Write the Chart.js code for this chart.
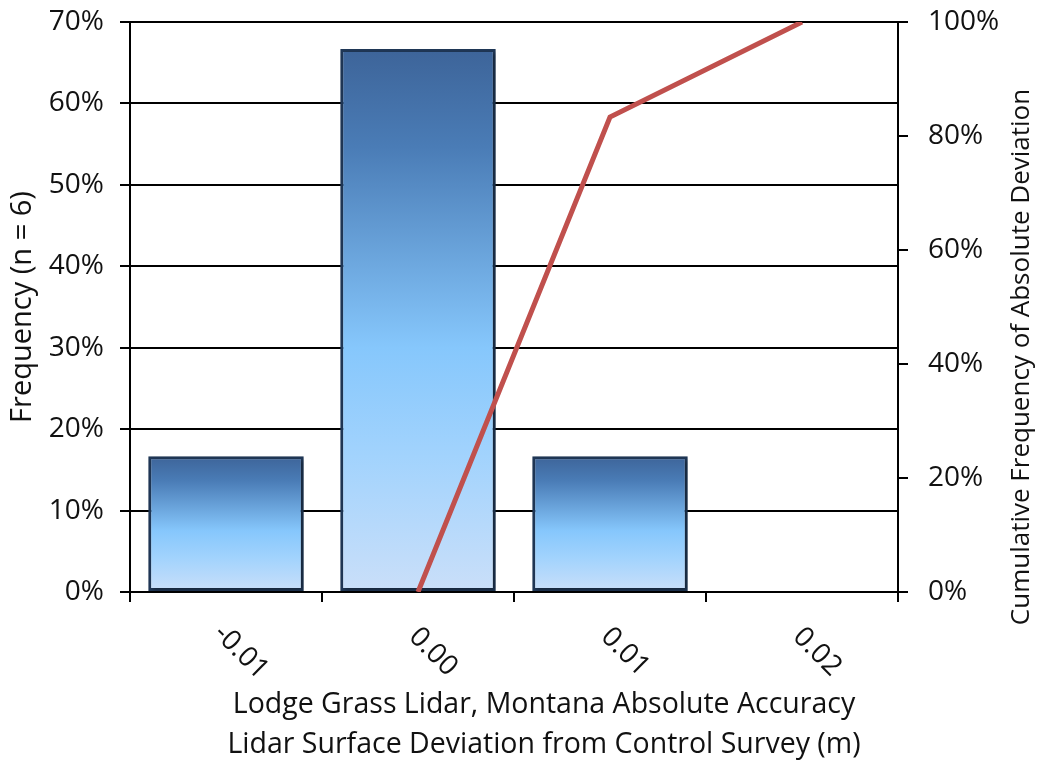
<!DOCTYPE html>
<html><head><meta charset="utf-8">
<script src="https://cdn.jsdelivr.net/npm/chart.js@4.4.0/dist/chart.umd.min.js"></script>
<style>html,body{margin:0;padding:0;background:#fff}#wrap{width:1045px;height:763px}</style>
</head><body><div id="wrap"><canvas id="c" width="1045" height="763"></canvas></div>
<script>
const categories = ['-0.01', '0.00', '0.01', '0.02'];
const frequency = [16.67, 66.67, 16.67, 0];
const cumulative = [null, 0, 83.33, 100];
const leftTicks = [0, 10, 20, 30, 40, 50, 60, 70];
const rightTicks = [0, 20, 40, 60, 80, 100];
const xTitle = ['Lodge Grass Lidar, Montana Absolute Accuracy', 'Lidar Surface Deviation from Control Survey (m)'];
const yTitle = 'Frequency (n = 6)';
const y2Title = 'Cumulative Frequency of Absolute Deviation';

const FONT = "'Open Sans', sans-serif";
const TXT = '#111';

function barGradient(context) {
  const chart = context.chart;
  const area = chart.chartArea;
  if (!area || context.type !== 'data') return '#6fa8dc';
  const ys = chart.scales.y;
  const top = ys.getPixelForValue(context.raw);
  const bottom = ys.getPixelForValue(0);
  if (!(bottom - top > 1)) return '#c8ddf8';
  const g = chart.ctx.createLinearGradient(0, top, 0, bottom);
  g.addColorStop(0, '#3d6499');
  g.addColorStop(0.18, '#4a7cb6');
  g.addColorStop(0.55, '#86c7fc');
  g.addColorStop(0.75, '#a2d3fd');
  g.addColorStop(1, '#cadff9');
  return g;
}

const shadowPlugin = {
  id: 'barShadow',
  beforeDatasetDraw(chart, args) {
    if (args.index !== 0) return;
    const c = chart.ctx;
    c.save();
    c.shadowColor = 'rgba(0,0,0,0.35)';
    c.shadowBlur = 4;
    c.shadowOffsetX = 2;
    c.shadowOffsetY = 2;
  },
  afterDatasetDraw(chart, args) {
    if (args.index !== 0) return;
    chart.ctx.restore();
  }
};

const textPlugin = {
  id: 'customText',
  afterDraw(chart) {
    const c = chart.ctx;
    const xs = chart.scales.x;
    c.save();
    c.fillStyle = TXT;
    c.font = '28px ' + FONT;
    c.textAlign = 'center';
    c.textBaseline = 'middle';
    categories.forEach((lab, i) => {
      const x = xs.getPixelForTick(i);
      c.save();
      c.translate(x + 15, 652);
      c.rotate(Math.PI / 4);
      c.fillText(lab, 0, 0);
      c.restore();
    });
    c.font = '28.5px ' + FONT;
    c.fillText(xTitle[0], 544, 705);
    c.fillText(xTitle[1], 544, 745);
    c.font = '26px ' + FONT;
    c.save();
    c.translate(1022, 357);
    c.rotate(-Math.PI / 2);
    c.fillText(y2Title, 0, 0);
    c.restore();
    c.restore();
  }
};

function fixVertical(width) {
  return function (scale) {
    scale.width = width;
    scale.paddingTop = 0;
    scale.paddingBottom = 0;
  };
}

new Chart(document.getElementById('c'), {
  data: {
    labels: categories,
    datasets: [
      {
        type: 'bar',
        data: frequency,
        yAxisID: 'y',
        order: 2,
        backgroundColor: barGradient,
        borderColor: '#1f3756',
        borderWidth: 3,
        borderSkipped: false,
        barPercentage: 0.81,
        categoryPercentage: 1.0
      },
      {
        type: 'line',
        data: cumulative,
        yAxisID: 'y2',
        order: 1,
        borderColor: '#c0504d',
        borderWidth: 5,
        pointRadius: 0,
        tension: 0,
        spanGaps: false
      }
    ]
  },
  options: {
    responsive: false,
    animation: false,
    devicePixelRatio: 1,
    layout: { padding: { top: 22, left: 0, right: 0, bottom: 0 } },
    plugins: { legend: { display: false }, tooltip: { enabled: false } },
    scales: {
      x: {
        type: 'category',
        offset: true,
        grid: { offset: true, drawOnChartArea: false, drawTicks: true, tickLength: 10, color: '#000', lineWidth: 2 },
        border: { display: true, color: '#000', width: 2 },
        ticks: { display: false },
        afterFit(scale) { scale.height = 171; scale.paddingLeft = 0; scale.paddingRight = 0; }
      },
      y: {
        position: 'left',
        min: 0,
        max: 70,
        afterBuildTicks(scale) { scale.ticks = leftTicks.map(v => ({ value: v })); },
        ticks: { callback: v => v + '%', font: { family: FONT, size: 28 }, color: TXT, padding: 16 },
        grid: { color: '#000', lineWidth: 2, drawTicks: true, tickLength: 10 },
        border: { display: true, color: '#000', width: 2 },
        title: { display: true, text: yTitle, font: { family: FONT, size: 29 }, color: TXT, padding: { top: 5, bottom: 0 } },
        afterFit: fixVertical(130)
      },
      y2: {
        position: 'right',
        min: 0,
        max: 100,
        afterBuildTicks(scale) { scale.ticks = rightTicks.map(v => ({ value: v })); },
        ticks: { callback: v => v + '%', font: { family: FONT, size: 28 }, color: TXT, padding: 20 },
        grid: { drawOnChartArea: false, color: '#000', lineWidth: 2, drawTicks: true, tickLength: 10 },
        border: { display: true, color: '#000', width: 2 },
        afterFit: fixVertical(147)
      }
    }
  },
  plugins: [shadowPlugin, textPlugin]
});
</script>
</body></html>
